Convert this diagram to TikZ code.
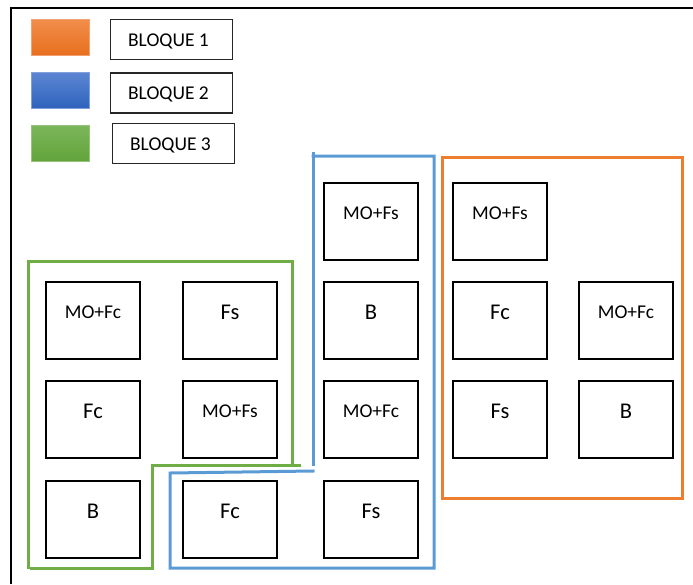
\documentclass[tikz,border=0pt]{standalone}
\usepackage{fontspec}
\setmainfont{Carlito}
\definecolor{orgline}{RGB}{237,125,49}
\definecolor{bluline}{RGB}{91,155,213}
\definecolor{grnline}{RGB}{112,173,71}
\begin{document}
\begin{tikzpicture}[x=1pt,y=-1pt,
  cell/.style={draw=black, line width=1.8pt, minimum width=94pt, minimum height=77pt, inner sep=0pt},
  big/.style={font=\fontsize{22.5}{22.5}\selectfont, inner sep=0pt},
  small/.style={font=\fontsize{19.5}{19.5}\selectfont, inner sep=0pt},
  legbox/.style={draw=black!85, line width=1.3pt, minimum width=122pt, minimum height=40pt, inner sep=0pt},
  legtxt/.style={font=\fontsize{19.5}{19.5}\selectfont, inner sep=0pt, xshift=-3pt, yshift=-1.5pt},
  swatch/.style={minimum width=58pt, minimum height=36pt, inner sep=0pt, line width=0.6pt},
  blk/.style={line width=3pt, line cap=rect}]
\useasboundingbox (0,0) rectangle (693,584);
% outer frame
\draw[line width=2pt, black] (11,584) -- (11,8) -- (693,8);
% legend
\node[swatch, draw={rgb,255:red,244;green,160;blue,110}, top color={rgb,255:red,241;green,142;blue,76}, bottom color={rgb,255:red,232;green,112;blue,30}] (s1) at (60,37) {};
\node[swatch, draw={rgb,255:red,130;green,160;blue,220}, top color={rgb,255:red,92;green,134;blue,210}, bottom color={rgb,255:red,46;green,98;blue,188}] (s2) at (60,90.5) {};
\node[swatch, draw={rgb,255:red,150;green,195;blue,120}, top color={rgb,255:red,124;green,182;blue,92}, bottom color={rgb,255:red,98;green,164;blue,58}] (s3) at (60,143) {};
\node[legbox, label={[legtxt]center:BLOQUE 1}] (l1) at (171.5,39.5) {};
\node[legbox, label={[legtxt]center:BLOQUE 2}] (l2) at (171.5,93) {};
\node[legbox, label={[legtxt]center:BLOQUE 3}] (l3) at (173.5,143.5) {};
% block outlines
\draw[blk, grnline] (28,567) -- (28,261) -- (292,261) -- (292,464);
\draw[blk, grnline] (299,465) -- (152,465) -- (152,568) -- (31,568);
\draw[blk, bluline] (313,464) -- (313,153);
\draw[blk, bluline] (313,156) -- (434,156) -- (434,568) -- (170,568) -- (170,473) -- (313,471);
\draw[blk, orgline] (442,157) rectangle (682,498);
% cells: green block
\node[cell, label={[small,yshift=8.5pt]center:MO+Fc}] (g1) at (93,320.5) {};
\node[cell, label={[big,yshift=8.5pt]center:Fs}] (g2) at (230,320.5) {};
\node[cell, label={[big,yshift=8.5pt]center:Fc}] (g3) at (93,419.5) {};
\node[cell, label={[small,yshift=8.5pt]center:MO+Fs}] (g4) at (230,419.5) {};
\node[cell, label={[big,yshift=8.5pt]center:B}] (g5) at (93,519.5) {};
% blue block
\node[cell, label={[small,yshift=8.5pt]center:MO+Fs}] (b1) at (371,221.5) {};
\node[cell, label={[big,yshift=8.5pt]center:B}] (b2) at (371,320.5) {};
\node[cell, label={[small,yshift=8.5pt]center:MO+Fc}] (b3) at (371,419.5) {};
\node[cell, label={[big,yshift=8.5pt]center:Fc}] (b4) at (230,519.5) {};
\node[cell, label={[big,yshift=8.5pt]center:Fs}] (b5) at (371,519.5) {};
% orange block
\node[cell, label={[small,yshift=8.5pt]center:MO+Fs}] (o1) at (500,221.5) {};
\node[cell, label={[big,yshift=8.5pt]center:Fc}] (o2) at (500,320.5) {};
\node[cell, label={[small,yshift=8.5pt]center:MO+Fc}] (o3) at (626,320.5) {};
\node[cell, label={[big,yshift=8.5pt]center:Fs}] (o4) at (500,419.5) {};
\node[cell, label={[big,yshift=8.5pt]center:B}] (o5) at (626,419.5) {};
\end{tikzpicture}
\end{document}
